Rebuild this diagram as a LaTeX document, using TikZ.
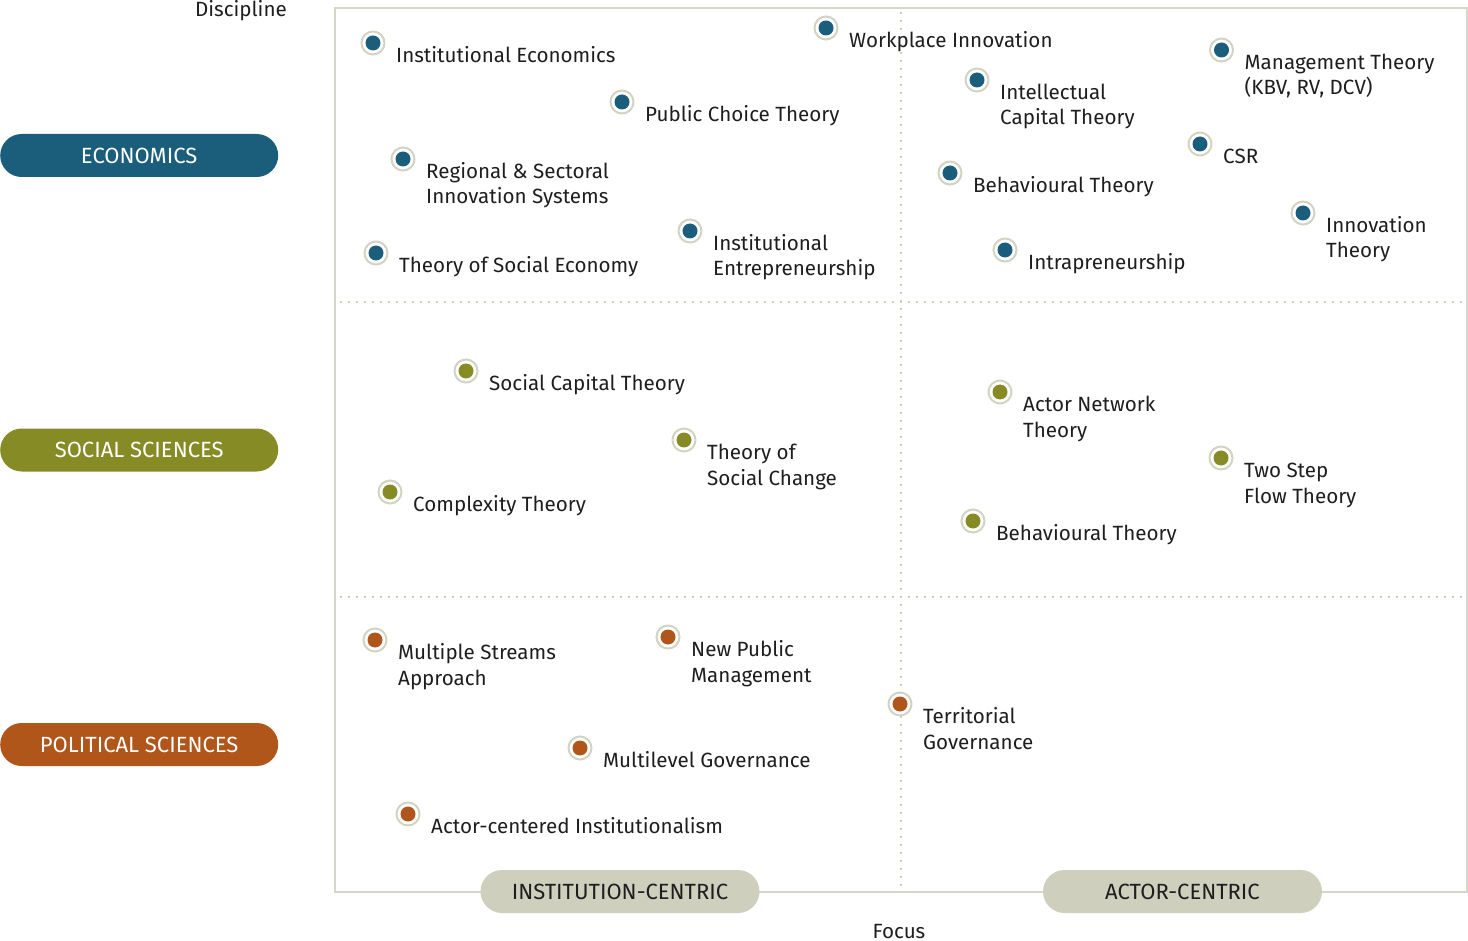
\documentclass[tikz,border=0pt]{standalone}
\usepackage{fontspec}
\setmainfont{Fira Sans}
\usetikzlibrary{calc}
\definecolor{econ}{HTML}{1A5E7B}
\definecolor{soc}{HTML}{868B26}
\definecolor{pol}{HTML}{B0561B}
\definecolor{tagg}{HTML}{CFCFBE}
\definecolor{framec}{HTML}{D5D7C9}
\definecolor{ringc}{HTML}{D3D3C4}
\definecolor{txt}{HTML}{1E1E1E}
\newcommand\thy[6]{%
  \node[dotst, fill=#4] (d#1) at (#2,#3) {};
  \draw[ringst] (d#1.center) circle[radius=11.5];
  \node[lab] (t#1) at ($(d#1.center)+(23,19.5)$) {#5};
  \if\relax\detokenize{#6}\relax\else
    \node[lab] (u#1) at ($(t#1.base west)+(0,25.5)$) {#6};
  \fi}
\begin{document}
\begin{tikzpicture}[x=1pt,y=-1pt,
  dotst/.style={circle, inner sep=0pt, minimum size=15pt},
  ringst/.style={draw=ringc, line width=2pt},
  lab/.style={anchor=base west, inner sep=0pt, text=txt, font=\fontsize{20.6}{25}\selectfont},
  disc/.style={rounded corners=21.5pt, minimum width=278pt, minimum height=43pt, inner sep=0pt, text=white, font=\fontsize{22}{25}\selectfont},
  focus/.style={rounded corners=21.5pt, minimum width=279pt, minimum height=43pt, inner sep=0pt, fill=tagg, text=txt, font=\fontsize{22}{25}\selectfont},
  grid/.style={draw=tagg, line width=2pt, dash pattern=on 2pt off 6pt},
  axis/.style={inner sep=0pt, text=txt, font=\fontsize{20.6}{25}\selectfont}]
\useasboundingbox (0,0) rectangle (1468,941);
\fill[white] (0,0) rectangle (1468,941);
% frame
\draw[draw=framec, line width=2pt] (335,8) rectangle (1467,892);
\draw[grid] (340,302) -- (1462,302);
\draw[grid] (340,597) -- (1462,597);
\draw[grid] (901,12) -- (901,888);
% axis titles
\node[axis, anchor=base east] (discipline) at (287,17) {Discipline};
\node[axis, anchor=base] (focusl) at (899,938) {Focus};
% discipline pills
\node[disc, fill=econ, anchor=west] (econ) at (0,155.5) {ECONOMICS};
\node[disc, fill=soc, anchor=west] (soc) at (0,450) {SOCIAL SCIENCES};
\node[disc, fill=pol, anchor=west] (pol) at (0,744.5) {POLITICAL SCIENCES};
% focus pills
\node[focus] (inst) at (620,891.5) {INSTITUTION-CENTRIC};
\node[focus] (actor) at (1182.5,891.5) {ACTOR-CENTRIC};
% economics
\thy{1}{373}{43}{econ}{Institutional Economics}{}
\thy{2}{826}{28}{econ}{Workplace Innovation}{}
\thy{3}{1221.5}{50}{econ}{Management Theory}{(KBV, RV, DCV)}
\thy{4}{622}{102}{econ}{Public Choice Theory}{}
\thy{5}{977}{80}{econ}{Intellectual}{Capital Theory}
\thy{6}{1200}{144}{econ}{CSR}{}
\thy{7}{403}{159}{econ}{Regional \& Sectoral}{Innovation Systems}
\thy{8}{950}{173}{econ}{Behavioural Theory}{}
\thy{9}{1303}{213}{econ}{Innovation}{Theory}
\thy{10}{690}{231}{econ}{Institutional}{Entrepreneurship}
\thy{11}{376}{253}{econ}{Theory of Social Economy}{}
\thy{12}{1005}{250}{econ}{Intrapreneurship}{}
% social sciences
\thy{13}{466}{371}{soc}{Social Capital Theory}{}
\thy{14}{1000}{392}{soc}{Actor Network}{Theory}
\thy{15}{684}{440}{soc}{Theory of}{Social Change}
\thy{16}{1221}{458}{soc}{Two Step}{Flow Theory}
\thy{17}{390}{492}{soc}{Complexity Theory}{}
\thy{18}{973}{521}{soc}{Behavioural Theory}{}
% political sciences
\thy{19}{375}{640}{pol}{Multiple Streams}{Approach}
\thy{20}{668}{637}{pol}{New Public}{Management}
\thy{21}{900}{704}{pol}{Territorial}{Governance}
\thy{22}{580}{748}{pol}{Multilevel Governance}{}
\thy{23}{408}{814}{pol}{Actor-centered Institutionalism}{}
\end{tikzpicture}
\end{document}
